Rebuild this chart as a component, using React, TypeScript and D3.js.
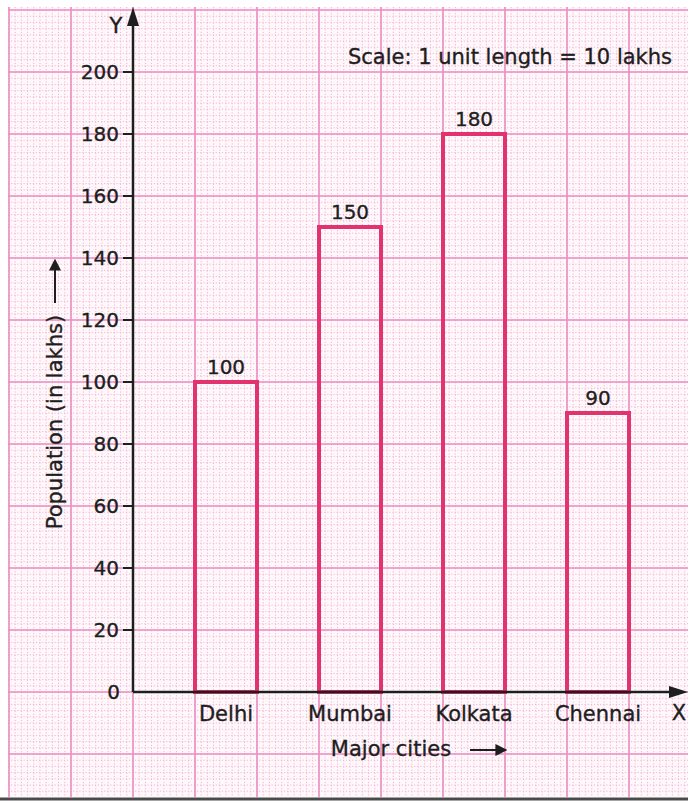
import React from "react";
import * as d3 from "d3";

const cities = ["Delhi", "Mumbai", "Kolkata", "Chennai"];
const population = [100, 150, 180, 90];
const yTicks = [0, 20, 40, 60, 80, 100, 120, 140, 160, 180, 200];

const W = 688;
const H = 802;
const FONT = "'DejaVu Sans', Verdana, sans-serif";
const FS = 21;
const NS = 20;

export default function App() {
  const y = d3.scaleLinear().domain([0, 200]).range([692, 72]);
  const cell = y(0) - y(20); // one major grid cell in px
  const x0 = 133;
  const x = d3
    .scaleBand<string>()
    .domain(cities)
    .range([x0 + cell / 2, x0 + cell / 2 + 8 * cell])
    .paddingInner(0.5)
    .paddingOuter(0.25);
  // grid unit scale (1 unit = one major cell)
  const gx = d3.scaleLinear().domain([0, 1]).range([x0, x0 + cell]);

  const paperL = 8, paperT = 7, paperR = 688, paperB = 797;

  const minorX = d3.range(-2, 9.001, 0.1).map((u) => gx(u)).filter((v) => v >= paperL && v <= paperR);
  const minorY = d3.range(-40, 230, 2).map((v) => y(v)).filter((v) => v >= paperT && v <= paperB);
  const majorX = d3.range(-2, 10).map((u) => gx(u)).filter((v) => v >= paperL - 2 && v <= paperR);
  const majorY = d3.range(-40, 240, 20).map((v) => y(v)).filter((v) => v >= paperT - 4 && v <= paperB);

  const pink = "#ec8cc2";
  const minorPink = "#f2b2d3";
  const barColor = "#e2336f";
  const ink = "#1e1e1e";
  const txt = { fill: ink, stroke: ink, strokeWidth: 0.35 };

  return (
    <svg
      width={W}
      height={H}
      style={{ position: "absolute", left: 0, top: 0, background: "#fff" }}
      fontFamily={FONT}
    >
      <defs>
        <marker id="arr" viewBox="0 0 10 10" refX="8" refY="5" markerWidth="6" markerHeight="6" markerUnits="strokeWidth" orient="auto">
          <path d="M0,0 L10,5 L0,10 z" fill={ink} />
        </marker>
      </defs>
      <rect x={paperL} y={paperT} width={paperR - paperL} height={paperB - paperT} fill="#fff8fb" />
      {/* minor dotted grid */}
      <g stroke={minorPink} strokeWidth={1} strokeDasharray="1.2 1.9">
        {minorX.map((v, i) => (
          <line key={"mx" + i} x1={v} x2={v} y1={paperT} y2={paperB} />
        ))}
        {minorY.map((v, i) => (
          <line key={"my" + i} x1={paperL} x2={paperR} y1={v} y2={v} />
        ))}
      </g>
      {/* major grid */}
      <g stroke={pink} strokeWidth={1.6}>
        {majorX.map((v, i) => (
          <line key={"Mx" + i} x1={Math.max(v, paperL)} x2={Math.max(v, paperL)} y1={paperT} y2={paperB} />
        ))}
        {majorY.map((v, i) => (
          <line key={"My" + i} x1={paperL} x2={paperR} y1={Math.max(v, paperT + 1)} y2={Math.max(v, paperT + 1)} />
        ))}
      </g>

      {/* scale note */}
      <text x={672} y={64} textAnchor="end" fontSize={FS} {...txt}>
        Scale: 1 unit length = 10 lakhs
      </text>

      {/* bars */}
      <g fill="none" stroke={barColor} strokeWidth={4}>
        {cities.map((c, i) => (
          <rect key={c} x={x(c)} y={y(population[i])} width={x.bandwidth()} height={y(0) - y(population[i])} />
        ))}
      </g>
      {/* value labels */}
      <g fontSize={NS} {...txt} textAnchor="middle">
        {cities.map((c, i) => (
          <text key={c} x={(x(c) as number) + x.bandwidth() / 2} y={y(population[i]) - 8}>
            {population[i]}
          </text>
        ))}
      </g>

      {/* axes */}
      <line x1={x0} x2={x0} y1={y(0)} y2={14} stroke={ink} strokeWidth={2.5} />
      <path d={`M${x0 - 6},${26} L${x0},${7} L${x0 + 6},${26} Z`} fill={ink} />
      <line x1={x0} x2={680} y1={y(0)} y2={y(0)} stroke={ink} strokeWidth={2.5} />
      <path d={`M${669},${y(0) - 6} L${688},${y(0)} L${669},${y(0) + 6} Z`} fill={ink} />
      <text x={116} y={33} fontSize={FS} {...txt} textAnchor="middle">Y</text>
      <text x={679} y={720} fontSize={FS} {...txt} textAnchor="middle">X</text>

      {/* y ticks */}
      <g fontSize={NS} {...txt}>
        {yTicks.map((t) => (
          <g key={t}>
            {t !== 0 && <line x1={x0 - 10} x2={x0} y1={y(t)} y2={y(t)} stroke={ink} strokeWidth={2} />}
            <text x={t === 0 ? 120 : 119} y={y(t) + 7} textAnchor="end">
              {t}
            </text>
          </g>
        ))}
      </g>

      {/* category labels */}
      <g fontSize={FS} {...txt} textAnchor="middle">
        {cities.map((c) => (
          <text key={c} x={(x(c) as number) + x.bandwidth() / 2} y={721}>
            {c}
          </text>
        ))}
      </g>

      {/* axis titles */}
      <text x={391} y={756} fontSize={FS} {...txt} textAnchor="middle">Major cities</text>
      <line x1={470} x2={505} y1={750} y2={750} stroke={ink} strokeWidth={2} markerEnd="url(#arr)" />
      <text
        transform={`translate(62,${422}) rotate(-90)`}
        fontSize={FS}
        {...txt}
        textAnchor="middle"
      >
        Population (in lakhs)
      </text>
      <line x1={55} x2={55} y1={303} y2={261} stroke={ink} strokeWidth={2} markerEnd="url(#arr)" />

      {/* bottom edge */}
      <line x1={0} x2={W} y1={799} y2={799} stroke="#4a4a4a" strokeWidth={3} />
    </svg>
  );
}
